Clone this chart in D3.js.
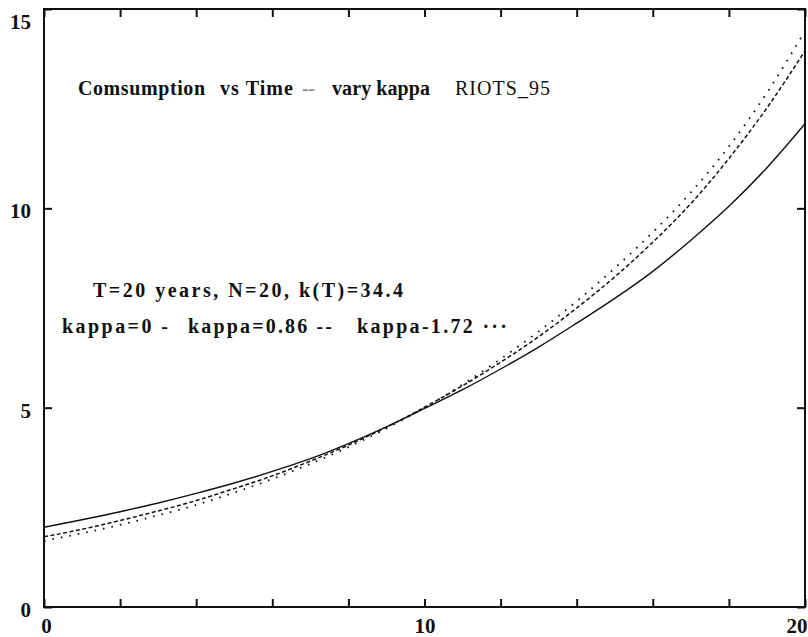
<!DOCTYPE html>
<html><head><meta charset="utf-8">
<script src="https://cdn.jsdelivr.net/npm/d3@7"></script>
<style>body{margin:0;background:#fff}svg{display:block}</style>
</head><body>
<script>
// ---- data ----
const years = [0,1,2,3,4,5,6,7,8,9,10,11,12,13,14,15,16,17,18,19,20];
const kappa0   = [2.00,2.19,2.39,2.61,2.85,3.11,3.40,3.72,4.10,4.52,4.98,5.45,5.97,6.52,7.12,7.74,8.42,9.20,10.05,11.02,12.12];
const kappa086 = [1.76,1.95,2.17,2.41,2.67,2.97,3.29,3.66,4.06,4.51,5.01,5.55,6.14,6.78,7.50,8.28,9.15,10.12,11.25,12.52,13.95];
const kappa172 = [1.66,1.85,2.06,2.30,2.56,2.87,3.21,3.59,4.01,4.48,5.00,5.58,6.22,6.91,7.67,8.50,9.40,10.40,11.55,12.90,14.45];
const xTickLabels = [0,10,20];
const xMinorTicks = [0,2,4,6,8,10,12,14,16,18,20];
const yTickLabels = [0,5,10,15];

const W=808,H=637;
const L=44,R=805,T=9,B=607;
const svg=d3.select("body").append("svg").attr("width",W).attr("height",H);
const x=d3.scaleLinear().domain([0,20]).range([L,R]);
const y=d3.scaleLinear().domain([0,15]).range([B,T]);
const font="'Liberation Serif','Times New Roman',serif";

// frame
svg.append("rect").attr("x",L).attr("y",T).attr("width",R-L).attr("height",B-T)
  .attr("fill","none").attr("stroke","#111").attr("stroke-width",2);

// ticks (inward)
const tl=8;
const gb=svg.append("g").attr("transform",`translate(0,${B})`)
  .call(d3.axisTop(x).tickValues(xMinorTicks).tickSize(tl).tickFormat(""));
const gt=svg.append("g").attr("transform",`translate(0,${T})`)
  .call(d3.axisBottom(x).tickValues(xMinorTicks).tickSize(tl).tickFormat(""));
const gl=svg.append("g").attr("transform",`translate(${L},0)`)
  .call(d3.axisRight(y).tickValues(yTickLabels).tickSize(tl).tickFormat(""));
const gr=svg.append("g").attr("transform",`translate(${R},0)`)
  .call(d3.axisLeft(y).tickValues(yTickLabels).tickSize(tl).tickFormat(""));
[gb,gt,gl,gr].forEach(g=>{g.select(".domain").remove();g.selectAll("line").attr("stroke","#111").attr("stroke-width",2);});

// tick labels
const lx=svg.append("g").attr("transform",`translate(0,${B})`)
  .call(d3.axisBottom(x).tickValues(xTickLabels).tickSize(0).tickPadding(0).tickFormat(d3.format("d")));
lx.select(".domain").remove();
lx.selectAll("text").attr("font-family",font).attr("font-weight","bold").attr("font-size",21)
  .attr("fill","#111").attr("y",26).attr("dy",0)
  .attr("text-anchor",d=>d===20?"end":"middle")
  .attr("x",d=>d===20?R-x(d)+2:(d===0?2:0));
const ly=svg.append("g").attr("transform",`translate(31,0)`)
  .call(d3.axisLeft(y).tickValues(yTickLabels).tickSize(0).tickPadding(0).tickFormat(d3.format("d")));
ly.select(".domain").remove();
ly.selectAll("text").attr("font-family",font).attr("font-weight","bold").attr("font-size",21)
  .attr("fill","#111").attr("text-anchor","end").attr("dy","0.35em")
  .attr("transform",d=>`translate(0,${Math.max(y(d),19)-y(d)+2})`);

// lines
const line=d3.line().x((d,i)=>x(years[i])).y(d=>y(d)).curve(d3.curveMonotoneX);
svg.append("path").datum(kappa0).attr("d",line).attr("fill","none").attr("stroke","#111").attr("stroke-width",1.4);
svg.append("path").datum(kappa086).attr("d",line).attr("fill","none").attr("stroke","#111").attr("stroke-width",1.5).attr("stroke-dasharray","4,2.5");
svg.append("path").datum(kappa172).attr("d",line).attr("fill","none").attr("stroke","#111").attr("stroke-width",1.8).attr("stroke-dasharray","1.6,7").attr("stroke-linecap","butt");

// text annotations
const texts=[
  {t:"Comsumption",x:78,y:95,len:127,w:"bold"},
  {t:"vs Time",x:220,y:95,len:73,w:"bold"},
  {t:"--",x:302,y:95,len:13,w:"normal",c:"#888"},
  {t:"vary kappa",x:332,y:95,len:98,w:"bold"},
  {t:"RIOTS_95",x:455,y:95,len:95,w:"normal"},
  {t:"T=20 years, N=20, k(T)=34.4",x:93,y:297,len:310,w:"bold"},
  {t:"kappa=0 -",x:62,y:333,len:106,w:"bold"},
  {t:"kappa=0.86 --",x:188,y:333,len:144,w:"bold"},
  {t:"kappa-1.72 \u00B7\u00B7\u00B7",x:357,y:333,len:150,w:"bold"}
];
svg.append("g").selectAll("text").data(texts).join("text")
  .attr("x",d=>d.x).attr("y",d=>d.y).attr("font-family",font).attr("font-size",20)
  .attr("font-weight",d=>d.w).attr("fill",d=>d.c||"#111")
  .attr("textLength",d=>d.len).attr("lengthAdjust","spacing").text(d=>d.t);
</script>
</body></html>
